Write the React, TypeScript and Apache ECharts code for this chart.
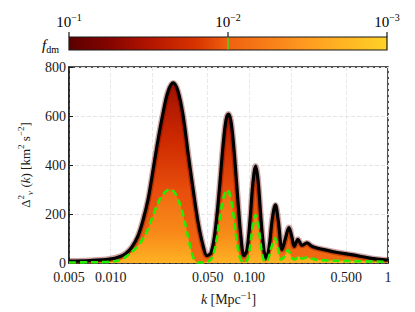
import React, { useEffect, useRef } from "react";
import * as echarts from "echarts";

// wavenumber k [Mpc^-1] and Delta_v^2 for the f_dm = 0.1 envelope (black)
const kBlack = [
  0.005, 0.0071, 0.0098, 0.0117, 0.0129, 0.0142, 0.0157, 0.0171, 0.0186, 0.0202,
  0.0219, 0.0238, 0.0259, 0.0282, 0.0306, 0.0333, 0.0362, 0.0393, 0.0427, 0.0464,
  0.0495, 0.0529, 0.0565, 0.0604, 0.0646, 0.0679, 0.0707, 0.0737, 0.0774, 0.0827,
  0.087, 0.0914, 0.096, 0.101, 0.106, 0.111, 0.1155, 0.1215, 0.1277, 0.132,
  0.1387, 0.1457, 0.154, 0.162, 0.172, 0.182, 0.193, 0.203, 0.211, 0.224,
  0.24, 0.26, 0.279, 0.298, 0.323, 0.414, 0.558, 0.74, 1.0,
];
const vBlack = [
  8, 10, 16, 27, 40, 65, 110, 175, 260, 380,
  500, 610, 700, 735, 700, 600, 445, 300, 165, 70,
  30, 42, 125, 285, 480, 585, 608, 578, 465, 255,
  105, 30, 52, 172, 325, 396, 338, 175, 48, 20,
  62, 172, 237, 168, 55, 100, 145, 104, 68, 97,
  72, 82, 70, 63, 58, 45, 33, 20, 12,
];

// f_dm = 0.01 curve (green dashed)
const kGreen = [
  0.005, 0.0071, 0.0098, 0.0117, 0.0129, 0.0142, 0.0157, 0.0171, 0.0186, 0.0202,
  0.0219, 0.0238, 0.0259, 0.0272, 0.0291, 0.0316, 0.0338, 0.0362, 0.038, 0.0399,
  0.0419, 0.0456, 0.0495, 0.0529, 0.0565, 0.0604, 0.0646, 0.0696, 0.0737, 0.0774,
  0.0815, 0.0857, 0.09, 0.0946, 0.0995, 0.1045, 0.111, 0.1175, 0.1234, 0.1297,
  0.1364, 0.1434, 0.1532, 0.161, 0.169, 0.178, 0.19, 0.203, 0.2136, 0.226,
  0.24, 0.256, 0.279, 0.323, 0.558, 1.0,
];
const vGreen = [
  2, 3, 5, 12, 26, 45, 70, 100, 140, 195,
  245, 280, 298, 300, 285, 240, 180, 105, 50, 15,
  3, 2, 5, 15, 60, 160, 260, 298, 260, 180,
  80, 20, 4, 5, 40, 130, 196, 130, 40, 5,
  15, 60, 101, 60, 15, 25, 53, 20, 15, 28,
  18, 22, 18, 12, 8, 5,
];

const xTickValues = [0.005, 0.01, 0.02, 0.05, 0.1, 0.2, 0.5, 1];
const xLabelValues = [0.005, 0.01, 0.05, 0.1, 0.5, 1];
const xLabelTexts = ["0.005", "0.010", "0.050", "0.100", "0.500", "1"];
const cbLabels = ["−1", "−2", "−3"];

const FONT = "'Liberation Serif', 'DejaVu Serif', serif";
const INK = "#1a1a1a";

const mkRich = (big: number, small: number, lh: number) => ({
  n: { fontSize: big, fontFamily: FONT, color: INK, lineHeight: lh },
  i: { fontSize: big, fontFamily: FONT, color: INK, fontStyle: "italic", lineHeight: lh },
  sup: { fontSize: small, fontFamily: FONT, color: INK, verticalAlign: "top", lineHeight: lh },
  sub: { fontSize: small, fontFamily: FONT, color: INK, verticalAlign: "bottom", lineHeight: lh },
  subi: { fontSize: small, fontFamily: FONT, color: INK, fontStyle: "italic", verticalAlign: "bottom", lineHeight: lh },
});

export default function App() {
  const ref = useRef<HTMLDivElement>(null);
  useEffect(() => {
    document.body.style.margin = "0";
    const chart = echarts.init(ref.current!, null, { renderer: "svg" });
    const black = kBlack.map((k, i) => [k, vBlack[i]]);
    const green = kGreen.map((k, i) => [k, vGreen[i]]);
    const cbX = [69, 228, 387];
    const cbRich = mkRich(15, 10, 19);
    const graphic: any[] = [
      {
        type: "rect",
        shape: { x: 69, y: 37, width: 318, height: 13 },
        style: {
          stroke: INK,
          lineWidth: 1.2,
          fill: new echarts.graphic.LinearGradient(0, 0, 1, 0, [
            { offset: 0, color: "#5a0000" },
            { offset: 0.12, color: "#820400" },
            { offset: 0.25, color: "#b21400" },
            { offset: 0.4, color: "#d83400" },
            { offset: 0.5, color: "#f06010" },
            { offset: 0.75, color: "#ff9c20" },
            { offset: 1, color: "#ffd226" },
          ]),
        },
        z: 10,
      },
      {
        type: "line",
        shape: { x1: 228, y1: 37.6, x2: 228, y2: 49.4 },
        style: { stroke: "#33dd22", lineWidth: 1.5 },
        z: 11,
      },
      {
        type: "text",
        x: 59,
        y: 45,
        style: {
          text: "{i|f}{sub|dm}",
          align: "right",
          verticalAlign: "middle",
          rich: cbRich,
        },
        z: 10,
      },
    ];
    cbX.forEach((x, i) => {
      graphic.push({
        type: "line",
        shape: { x1: x, y1: 32, x2: x, y2: 37 },
        style: { stroke: INK, lineWidth: 1.2 },
        z: 10,
      });
      graphic.push({
        type: "text",
        x,
        y: 31,
        style: {
          text: "{n|10}{sup|" + cbLabels[i] + "}",
          align: "center",
          verticalAlign: "bottom",
          rich: cbRich,
        },
        z: 10,
      });
    });

    chart.setOption({
      animation: false,
      backgroundColor: "#ffffff",
      grid: {
        left: 69,
        right: 27,
        top: 67,
        bottom: 49,
        show: true,
        borderColor: INK,
        borderWidth: 1.5,
        backgroundColor: "transparent",
        outerBoundsMode: "none",
      },
      graphic,
      xAxis: {
        type: "log",
        logBase: 10,
        min: 0.005,
        max: 1,
        name: "{i|k} {n|[Mpc}{sup|−1}{n|]}",
        nameLocation: "middle",
        nameGap: 27,
        nameTextStyle: { rich: mkRich(14, 10, 18) },
        axisLine: { show: true, lineStyle: { color: INK, width: 1.5 } },
        axisTick: {
          show: true,
          inside: true,
          length: 4,
          customValues: xTickValues,
          lineStyle: { color: INK },
        },
        minorTick: { show: false },
        axisLabel: {
          customValues: xLabelValues,
          formatter: (v: number) => {
            const idx = xLabelValues.findIndex((x) => Math.abs(x - v) / x < 1e-6);
            return idx >= 0 ? xLabelTexts[idx] : "";
          },
          fontFamily: FONT,
          fontSize: 14,
          color: INK,
          margin: 7,
        },
        splitLine: { show: true, lineStyle: { type: "dashed", color: "#e8e8e8", width: 1 } },
      },
      yAxis: {
        type: "value",
        min: 0,
        max: 800,
        interval: 200,
        name: "{n|Δ}{sup|2}{subi|v} {n|(}{i|k}{n|) [km}{sup|2}{n| s}{sup|−2}{n|]}",
        nameLocation: "middle",
        nameGap: 32,
        nameTextStyle: { rich: mkRich(13, 9, 18) },
        axisLine: { show: true, lineStyle: { color: INK, width: 1.5 } },
        axisTick: { show: true, inside: true, length: 4, lineStyle: { color: INK } },
        axisLabel: { fontFamily: FONT, fontSize: 14, color: INK, margin: 3 },
        splitLine: { show: true, lineStyle: { type: "dashed", color: "#e4e4e4", width: 1 } },
      },
      series: [
        {
          name: "envelope-fill",
          type: "line",
          data: black,
          smooth: 0.35,
          showSymbol: false,
          lineStyle: { width: 0 },
          areaStyle: {
            opacity: 1,
            color: new echarts.graphic.LinearGradient(0, 0, 0, 1, [
              { offset: 0, color: "#a01000" },
              { offset: 0.3, color: "#cc2800" },
              { offset: 0.6, color: "#e84e0c" },
              { offset: 1, color: "#f26c12" },
            ]),
          },
          z: 1,
        },
        {
          name: "green-fill",
          type: "line",
          data: green,
          smooth: 0.35,
          showSymbol: false,
          lineStyle: { width: 0 },
          areaStyle: {
            opacity: 1,
            color: new echarts.graphic.LinearGradient(0, 0, 0, 1, [
              { offset: 0, color: "#f06a12" },
              { offset: 0.6, color: "#f88a18" },
              { offset: 1, color: "#ffb224" },
            ]),
          },
          z: 2,
        },
        {
          name: "edge",
          type: "line",
          data: black,
          smooth: 0.35,
          showSymbol: false,
          lineStyle: { width: 6, color: "rgba(120,0,0,0.35)" },
          z: 3,
        },
        {
          name: "fdm=0.1",
          type: "line",
          data: black,
          smooth: 0.35,
          showSymbol: false,
          lineStyle: { width: 3.2, color: "#000000" },
          z: 4,
        },
        {
          name: "fdm=0.01",
          type: "line",
          data: green,
          smooth: 0.35,
          showSymbol: false,
          lineStyle: { width: 2.6, color: "#22ee00", type: [7, 4] },
          z: 5,
        },
      ],
    });
    return () => chart.dispose();
  }, []);
  return (
    <div
      ref={ref}
      style={{ position: "absolute", left: 0, top: 0, width: 415, height: 312 }}
    />
  );
}
